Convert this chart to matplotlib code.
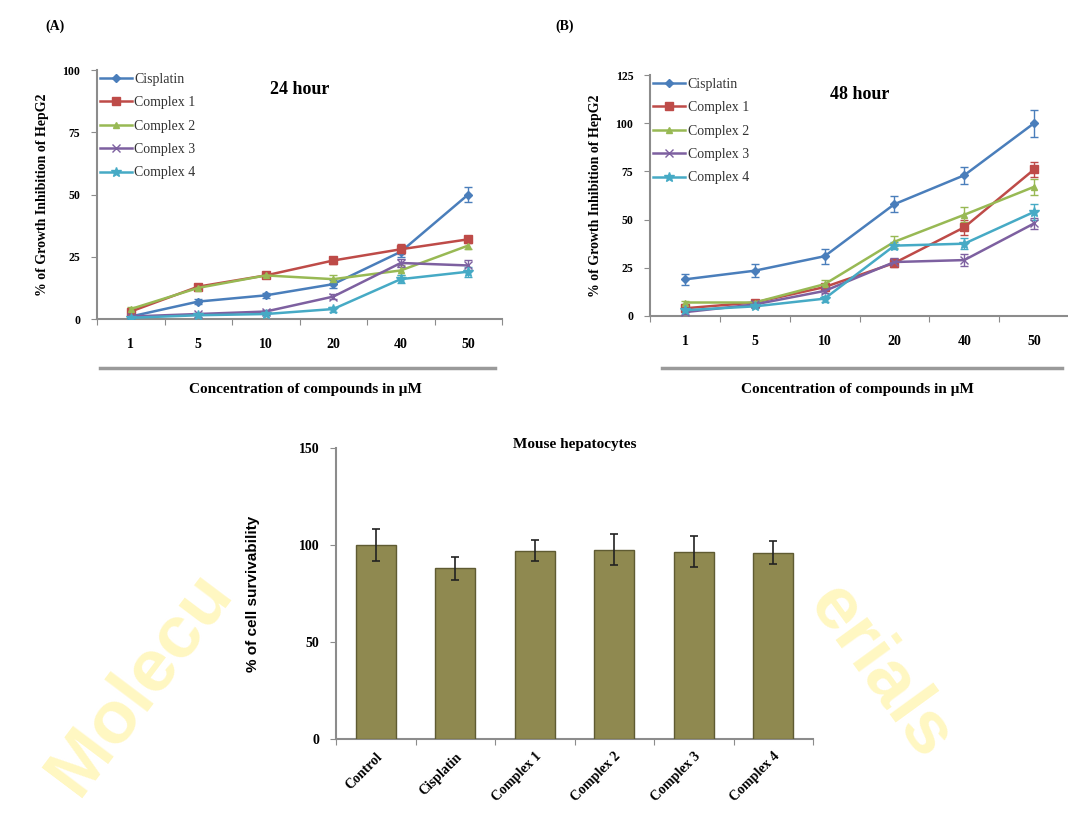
import numpy as np
import matplotlib
matplotlib.use('Agg')
import matplotlib.pyplot as plt
from matplotlib.lines import Line2D

SERIF = 'Liberation Serif'
SANS = 'Liberation Sans'

# ---- data ----
conc_labels = ['1', '5', '10', '20', '40', '50']
series_names = ['Cisplatin', 'Complex 1', 'Complex 2', 'Complex 3', 'Complex 4']

# (A) 24 hour, % growth inhibition of HepG2
cis_24 = [1, 7, 9.5, 14, 27, 50]
c1_24 = [3, 13, 17.5, 23.5, 28, 32]
c2_24 = [4, 12.5, 17.5, 16, 19.5, 29.5]
c3_24 = [1, 2, 3, 9, 22.5, 21.5]
c4_24 = [0.5, 1.5, 2, 4, 16, 19]
cis_24_err = [0.5, 1, 1, 1.5, 2, 3]
c1_24_err = [1, 1, 1, 1.5, 2, 1.5]
c2_24_err = [1, 1, 1, 1.5, 2, 1.5]
c3_24_err = [0.5, 0.5, 0.5, 1, 1.5, 2]
c4_24_err = [0.5, 0.5, 0.5, 1, 1.5, 2]

# (B) 48 hour
cis_48 = [19, 23.5, 31, 58, 73, 100]
c1_48 = [4, 7, 15, 27.5, 46, 76]
c2_48 = [7, 7, 16.5, 38.5, 52.5, 67]
c3_48 = [2, 6, 13, 28, 29, 48]
c4_48 = [3, 5, 9, 36.5, 37.5, 54]
cis_48_err = [3, 3.5, 4, 4, 4.5, 7]
c1_48_err = [1, 1, 1.5, 2, 4, 4]
c2_48_err = [1, 1, 2, 3, 4, 4]
c3_48_err = [1, 1, 1, 2, 3, 3]
c4_48_err = [1, 1, 1.5, 2, 3, 4]

# mouse hepatocytes survivability
bar_labels = ['Control', 'Cisplatin', 'Complex 1', 'Complex 2', 'Complex 3', 'Complex 4']
survival = [100, 88, 97, 97.5, 96.5, 96]
survival_err = [8, 6, 5.5, 8, 8, 6]

colors = ['#4A7EBB', '#BE4B48', '#98B954', '#7D60A0', '#46AAC5']
markers = ['D', 's', '^', 'x', '*']
msizes = [4, 6, 5, 6, 7]
AXIS_GRAY = '#8c8c8c'

fig = plt.figure(figsize=(10.68, 8.25), dpi=100)


def line_panel(rect, data, errs, ymax, title, letter, letter_x, line_x0, line_x1, label_x):
    ax = fig.add_axes(rect)
    x = np.arange(len(conc_labels))
    for vals, err, c, m, ms, name in zip(data, errs, colors, markers, msizes, series_names):
        ax.errorbar(x, vals, yerr=err, fmt='none', ecolor=c, capsize=3,
                    elinewidth=1, capthick=1, zorder=3)
        ax.plot(x, vals, color=c, marker=m, markersize=ms, lw=1.8, label=name, zorder=4)
    ax.set_xlim(-0.5, 5.5)
    ax.set_ylim(0, ymax)
    ax.set_yticks(np.arange(0, ymax + 1, 25))
    ax.set_xticks(np.arange(-0.5, 6, 1))
    ax.set_xticklabels([])
    ax.set_xticks(x, labels=conc_labels, minor=True)
    ax.tick_params(axis='x', which='major', length=4, color=AXIS_GRAY, direction='out')
    ax.tick_params(axis='x', which='minor', length=0, pad=14)
    ax.tick_params(axis='y', length=4, color=AXIS_GRAY, pad=8)
    for lab in ax.get_xticklabels(minor=True):
        lab.set_fontfamily(SERIF); lab.set_fontweight('bold'); lab.set_fontsize(10)
    for lab in ax.get_yticklabels():
        lab.set_fontfamily(SERIF); lab.set_fontweight('bold'); lab.set_fontsize(8.5)
    for s in ['top', 'right']:
        ax.spines[s].set_visible(False)
    for s in ['left', 'bottom']:
        ax.spines[s].set_color(AXIS_GRAY)
        ax.spines[s].set_linewidth(1.5)
    ax.set_ylabel('% of Growth Inhibition of HepG2', fontfamily=SERIF,
                  fontweight='bold', fontsize=10, labelpad=10)
    ax.text(0.5, 0.92, title, transform=ax.transAxes, ha='center', va='center',
            fontfamily=SERIF, fontweight='bold', fontsize=13)
    leg = ax.legend(loc='upper left', bbox_to_anchor=(0.0, 1.0), frameon=False,
                    borderaxespad=0.1, borderpad=0.1, handlelength=2.3,
                    handletextpad=0.2, labelspacing=0.75,
                    prop={'family': SERIF, 'size': 10})
    for t in leg.get_texts():
        t.set_color('#333333')
    fig.text(letter_x, 1 - 26 / 825, letter, fontfamily=SERIF, fontweight='bold',
             fontsize=10, ha='center', va='center')
    fig.add_artist(Line2D([line_x0 / 1068, line_x1 / 1068], [1 - 368 / 825] * 2,
                          color='#9a9a9a', lw=2.5))
    fig.text(label_x / 1068, 1 - 390 / 825, 'Concentration of compounds in \u00b5M',
             fontfamily=SERIF, fontweight='bold', fontsize=11, ha='center', va='center')
    return ax


# faint journal watermark behind everything
fig.text(78 / 1068, 1 - 798 / 825, 'Molecu', rotation=53, rotation_mode='anchor',
         ha='left', va='baseline', fontsize=54, fontweight='bold', fontfamily=SANS,
         color='#fff7c2', zorder=0)
fig.text(850 / 1068, 1 - 572 / 825, 'erials', rotation=-54, rotation_mode='anchor',
         ha='left', va='top', fontsize=54, fontweight='bold', fontfamily=SANS,
         color='#fff7c2', zorder=0)

line_panel([97 / 1068, 1 - 319 / 825, 405 / 1068, 249 / 825],
           [cis_24, c1_24, c2_24, c3_24, c4_24],
           [cis_24_err, c1_24_err, c2_24_err, c3_24_err, c4_24_err],
           100, '24 hour', '(A)', 55 / 1068, 100, 495, 305)

line_panel([650 / 1068, 1 - 316 / 825, 419 / 1068, 241 / 825],
           [cis_48, c1_48, c2_48, c3_48, c4_48],
           [cis_48_err, c1_48_err, c2_48_err, c3_48_err, c4_48_err],
           125, '48 hour', '(B)', 565 / 1068, 662, 1062, 857)

# ---- bar chart ----
axc = fig.add_axes([336 / 1068, 1 - 739 / 825, 477 / 1068, 291 / 825])
xb = np.arange(len(bar_labels))
axc.bar(xb, survival, width=0.5, color='#8f8950', edgecolor='#5f5b32', lw=1,
        yerr=survival_err, capsize=3, error_kw={'elinewidth': 1.2, 'ecolor': '#222222',
                                                'capthick': 1.2}, zorder=3)
axc.set_xlim(-0.5, 5.5)
axc.set_ylim(0, 150)
axc.set_yticks([0, 50, 100, 150])
axc.set_xticks(np.arange(-0.5, 6, 1))
axc.set_xticklabels([])
axc.set_xticks(xb, labels=bar_labels, minor=True)
axc.tick_params(axis='x', which='major', length=4, color=AXIS_GRAY)
axc.tick_params(axis='x', which='minor', length=0, pad=8)
axc.tick_params(axis='y', length=4, color=AXIS_GRAY, pad=8)
for lab in axc.get_xticklabels(minor=True):
    lab.set_fontfamily(SERIF); lab.set_fontweight('bold'); lab.set_fontsize(10)
    lab.set_rotation(45); lab.set_ha('right'); lab.set_rotation_mode('anchor')
for lab in axc.get_yticklabels():
    lab.set_fontfamily(SERIF); lab.set_fontweight('bold'); lab.set_fontsize(10)
for s in ['top', 'right']:
    axc.spines[s].set_visible(False)
for s in ['left', 'bottom']:
    axc.spines[s].set_color(AXIS_GRAY)
    axc.spines[s].set_linewidth(1.5)
axc.set_ylabel('% of cell survivability', fontfamily=SANS, fontweight='bold',
               fontsize=11, labelpad=28)
axc.set_title('Mouse hepatocytes', fontfamily=SERIF, fontweight='bold',
              fontsize=11, y=0.97)

fig.savefig('out.png', dpi=100)
